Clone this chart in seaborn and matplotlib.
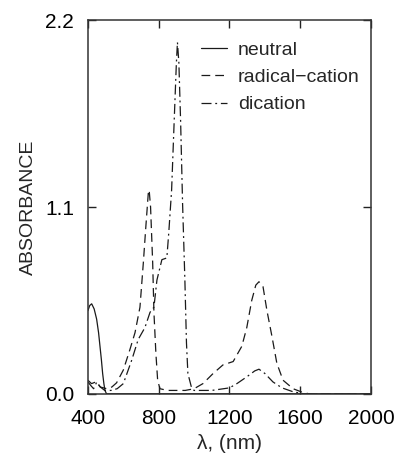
import matplotlib
matplotlib.use("Agg")
import matplotlib.pyplot as plt
import seaborn as sns
import pandas as pd

# ---- data ----
neutral_wl = [400, 410, 421, 435, 449, 460, 468, 476, 483, 490, 496, 505, 600, 1000, 1500, 2000]
neutral_abs = [0.49, 0.52, 0.53, 0.50, 0.44, 0.36, 0.28, 0.20, 0.12, 0.06, 0.02, 0.0, 0.0, 0.0, 0.0, 0.0]

radical_wl = [400, 420, 445, 470, 507, 535, 562, 600, 637, 666, 694, 713, 727, 741, 746, 754,
              766, 773, 784, 794, 807, 850, 950, 1000, 1050, 1108, 1163, 1221, 1270, 1298,
              1326, 1349, 1367, 1390, 1412, 1440, 1468, 1503, 1560, 1610, 1650, 2000]
radical_abs = [0.08, 0.06, 0.07, 0.04, 0.03, 0.04, 0.065, 0.14, 0.26, 0.36, 0.51, 0.77, 0.98, 1.18, 1.20, 1.10,
               0.77, 0.48, 0.24, 0.08, 0.03, 0.02, 0.02, 0.03, 0.06, 0.12, 0.17, 0.19, 0.28, 0.39,
               0.55, 0.64, 0.66, 0.63, 0.49, 0.34, 0.18, 0.08, 0.03, 0.01, 0.0, 0.0]

dication_wl = [400, 415, 432, 450, 470, 495, 530, 565, 600, 648, 684, 722, 751, 773, 790, 818, 846,
               857, 873, 888, 900, 906, 914, 924, 935, 948, 957, 965, 986, 1000, 1100, 1200,
               1242, 1298, 1343, 1367, 1400, 1446, 1497, 1560, 1620, 2000]
dication_abs = [0.07, 0.05, 0.03, 0.07, 0.04, 0.02, 0.02, 0.03, 0.06, 0.20, 0.32, 0.39, 0.48, 0.51, 0.67, 0.79, 0.80,
                0.95, 1.20, 1.62, 1.95, 2.07, 1.95, 1.60, 1.12, 0.67, 0.30, 0.12, 0.035, 0.02, 0.02, 0.035,
                0.06, 0.10, 0.135, 0.145, 0.12, 0.07, 0.035, 0.012, 0.0, 0.0]

labels = ["neutral", "radical\u2212cation", "dication"]
x_ticks = [400, 800, 1200, 1600, 2000]
y_ticks = [0.0, 1.1, 2.2]

# ---- styling ----
sns.set_style("ticks")
plt.rcParams["font.family"] = ["Liberation Sans", "DejaVu Sans"]

fig = plt.figure(figsize=(3.98, 4.59), dpi=100)
ax = fig.add_axes([0.221, 0.142, 0.711, 0.814])

styles = [
    dict(linestyle="-"),
    dict(linestyle=(0, (7, 4))),
    dict(linestyle=(0, (8, 3, 1.5, 3))),
]
series = [(neutral_wl, neutral_abs), (radical_wl, radical_abs), (dication_wl, dication_abs)]
for (wl, ab), lab, st in zip(series, labels, styles):
    df = pd.DataFrame({"wl": wl, "A": ab})
    sns.lineplot(data=df, x="wl", y="A", ax=ax, color="#1a1a1a", linewidth=0.9,
                 label=lab, sort=False, estimator=None, **st)

ax.set_xlim(400, 2000)
ax.set_ylim(0, 2.2)
ax.set_xticks(x_ticks)
ax.set_xticklabels([str(t) for t in x_ticks])
ax.set_yticks(y_ticks)
ax.set_yticklabels([f"{t:.1f}" for t in y_ticks])
ax.tick_params(direction="in", length=6, width=1.0, labelsize=15, pad=10,
               top=True, right=True, colors="#222222", labelcolor="black")
ax.tick_params(axis="x", pad=11)
for s in ax.spines.values():
    s.set_color("#333333")
    s.set_linewidth(1.1)

ax.set_xlabel("\u03bb, (nm)", fontsize=15, labelpad=4)
ax.set_ylabel("ABSORBANCE", fontsize=14, labelpad=6)

leg = ax.legend(loc="upper left", bbox_to_anchor=(0.40, 0.944), frameon=False,
                fontsize=14, handlelength=1.35, handletextpad=0.55, labelspacing=0.5,
                borderpad=0, borderaxespad=0)
for h in leg.get_lines():
    h.set_linewidth(0.9)

fig.savefig("out.png", dpi=100)
